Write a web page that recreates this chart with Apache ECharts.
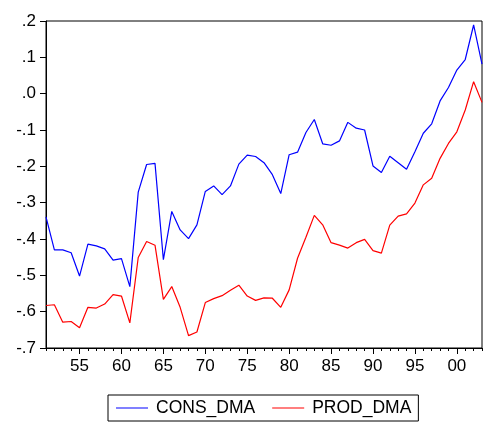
<!DOCTYPE html>
<html>
<head>
<meta charset="utf-8">
<script src="https://cdn.jsdelivr.net/npm/echarts@6/dist/echarts.min.js"></script>
<style>html,body{margin:0;padding:0;background:#fff;}#c{width:483px;height:425px;}</style>
</head>
<body>
<div id="c"></div>
<script>
var years = [];
for (var y = 1951; y <= 2003; y++) years.push(String(y));
var consDma = [-0.339,-0.430,-0.430,-0.438,-0.502,-0.414,-0.419,-0.427,-0.458,-0.454,
  -0.531,-0.271,-0.195,-0.192,-0.457,-0.324,-0.375,-0.399,-0.361,-0.269,
  -0.254,-0.278,-0.254,-0.194,-0.169,-0.173,-0.190,-0.223,-0.275,-0.168,
  -0.161,-0.107,-0.071,-0.138,-0.142,-0.130,-0.079,-0.095,-0.100,-0.199,
  -0.217,-0.172,-0.190,-0.208,-0.160,-0.109,-0.083,-0.020,0.017,0.065,
  0.094,0.189,0.081];
var prodDma = [-0.583,-0.581,-0.629,-0.627,-0.644,-0.588,-0.590,-0.579,-0.553,-0.557,
  -0.631,-0.451,-0.407,-0.417,-0.566,-0.531,-0.588,-0.666,-0.656,-0.575,
  -0.564,-0.556,-0.541,-0.527,-0.557,-0.569,-0.562,-0.563,-0.588,-0.540,
  -0.453,-0.395,-0.335,-0.361,-0.410,-0.417,-0.425,-0.410,-0.401,-0.432,
  -0.439,-0.362,-0.337,-0.331,-0.301,-0.251,-0.233,-0.178,-0.137,-0.105,
  -0.045,0.033,-0.024];
var seriesNames = ['CONS_DMA', 'PROD_DMA'];
var yMin = -0.7, yMax = 0.2, yStep = 0.1;

var FONT = 'Arial, "Liberation Sans", sans-serif';
function isLabelYear(i) { return Number(years[i]) % 5 === 0; }
function fmtY(v) {
  var s = (Math.round(v * 10) / 10).toFixed(1);
  if (s === '-0.0') s = '0.0';
  return s.replace('0.', '.');
}
var chart = echarts.init(document.getElementById('c'));
chart.setOption({
  animation: false,
  backgroundColor: '#fff',
  grid: { left: 46, right: 1, top: 21, bottom: 77, show: true, borderColor: '#000', borderWidth: 1 },
  xAxis: [{
    type: 'category', data: years, boundaryGap: false,
    axisLine: { onZero: false, lineStyle: { color: '#000', width: 1 } },
    axisTick: { show: true, length: 3, interval: 0, lineStyle: { color: '#000' } },
    axisLabel: { interval: function (i) { return isLabelYear(i); },
      formatter: function (v) { return v.slice(2); },
      color: '#000', fontFamily: FONT, fontSize: 17, margin: 10 },
    splitLine: { show: false }
  }, {
    type: 'category', data: years, boundaryGap: false, position: 'bottom',
    axisLine: { show: false, onZero: false },
    axisTick: { show: true, length: 6, interval: function (i) { return isLabelYear(i); }, lineStyle: { color: '#000' } },
    axisLabel: { show: false },
    splitLine: { show: false }
  }],
  yAxis: {
    type: 'value', min: yMin, max: yMax, interval: yStep,
    axisLine: { show: true, lineStyle: { color: '#000', width: 1 } },
    axisTick: { show: true, length: 6, lineStyle: { color: '#000' } },
    axisLabel: { formatter: fmtY, color: '#000', fontFamily: FONT, fontSize: 17, margin: 10 },
    splitLine: { show: false }
  },
  legend: {
    left: 108, top: 395,
    padding: [4, 7, 4, 8],
    borderColor: '#000', borderWidth: 1,
    itemWidth: 32, itemHeight: 1, itemGap: 17,
    icon: 'rect',
    textStyle: { color: '#000', fontFamily: FONT, fontSize: 17.5, padding: [0, 0, 0, 3] },
    data: seriesNames
  },
  series: [{
    name: seriesNames[0], type: 'line', data: consDma, symbol: 'none',
    color: '#0000ff', lineStyle: { color: '#0000ff', width: 1.2 }
  }, {
    name: seriesNames[1], type: 'line', data: prodDma, symbol: 'none',
    color: '#ff0000', lineStyle: { color: '#ff0000', width: 1.2 }
  }]
});
</script>
</body>
</html>
